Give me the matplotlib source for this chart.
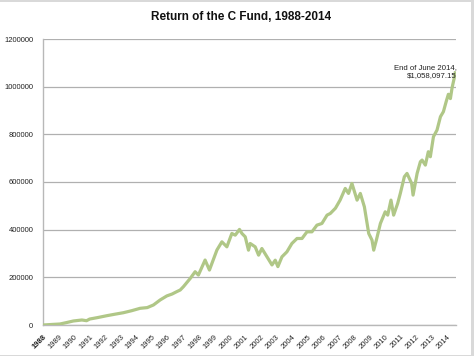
import matplotlib
matplotlib.use("Agg")
import matplotlib.pyplot as plt
from matplotlib.patches import Rectangle

# Data (decimal year, fund value in $)
years = [1988.0, 1988.5, 1989.09, 1989.5, 1989.95, 1990.5, 1990.8, 1991.0, 1991.5, 1992.1,
         1992.6, 1993.17, 1993.7, 1994.24, 1994.7, 1995.1, 1995.53, 1995.96, 1996.3, 1996.6,
         1996.82, 1997.03, 1997.46, 1997.78, 1997.99, 1998.42, 1998.7, 1999.18, 1999.5, 1999.82,
         2000.14, 2000.36, 2000.63, 2000.79, 2001.0, 2001.21, 2001.32, 2001.64, 2001.86, 2002.07,
         2002.4, 2002.72, 2002.93, 2003.1, 2003.36, 2003.68, 2004.0, 2004.33, 2004.65, 2004.97,
         2005.29, 2005.61, 2005.93, 2006.26, 2006.47, 2006.8, 2007.1, 2007.43, 2007.64, 2007.86,
         2008.19, 2008.4, 2008.66, 2008.94, 2009.15, 2009.26, 2009.43, 2009.69, 2010.0, 2010.16,
         2010.37, 2010.54, 2010.8, 2010.97, 2011.23, 2011.4, 2011.7, 2011.79, 2012.05, 2012.26,
         2012.37, 2012.58, 2012.77, 2012.9, 2013.1, 2013.33, 2013.55, 2013.74, 2013.93, 2014.06,
         2014.19, 2014.3, 2014.45, 2014.5]
values = [0, 2000, 4200, 10000, 16800, 21000, 18000, 25000, 31000, 39000,
          45000, 51600, 60000, 70000, 73000, 84000, 105000, 122000, 130000, 140000,
          146800, 161000, 195000, 223600, 209600, 272500, 230600, 314500, 349000, 328000,
          384000, 377000, 401000, 384000, 370000, 314000, 342000, 328000, 293000, 321000,
          286000, 252000, 272000, 245000, 286000, 307000, 342000, 363000, 363000, 391000,
          391000, 419000, 426000, 461000, 468000, 490000, 524000, 573000, 552000, 594000,
          524000, 552000, 496000, 384000, 356000, 314000, 356000, 426000, 475000, 461000,
          524000, 461000, 510000, 552000, 622000, 636000, 594000, 545000, 636000, 685000,
          692000, 671000, 727000, 706000, 790000, 818000, 874000, 895000, 940000, 968000,
          950000, 996000, 1040000, 1058097.15]

tick_years = list(range(1988, 2015))
y_ticks = [0, 200000, 400000, 600000, 800000, 1000000, 1200000]

title = "Return of the C Fund, 1988-2014"
note = "End of June 2014,\n$1,058,097.15"

W, H = 474, 356
fig = plt.figure(figsize=(W / 100, H / 100), dpi=100)
fig.patch.set_facecolor("white")

# light frame bands around the picture
fig.add_artist(Rectangle((0, 1 - 2 / H), 1, 2 / H, transform=fig.transFigure,
                         facecolor="#d9d9d9", edgecolor="none"))
fig.add_artist(Rectangle((1 - 3 / W, 0), 3 / W, 1, transform=fig.transFigure,
                         facecolor="#d9d9d9", edgecolor="none"))
fig.add_artist(Rectangle((0, 0), 1, 1.5 / H, transform=fig.transFigure,
                         facecolor="#d9d9d9", edgecolor="none"))

left, right, top, bottom = 43, 456, 39, 325
ax = fig.add_axes([left / W, (H - bottom) / H, (right - left) / W, (bottom - top) / H])
ax.set_facecolor("white")

ax.plot(years, values, color="#b0c787", lw=2.3, solid_joinstyle="round", zorder=3)

ax.set_xlim(1988, 2014.55)
ax.set_ylim(0, 1200000)
ax.set_yticks(y_ticks)
ax.set_yticklabels([str(v) for v in y_ticks])
ax.set_xticks(tick_years)
ax.set_xticklabels([str(y) for y in tick_years], rotation=45, ha="right",
                   va="top", rotation_mode="anchor")
ax.get_xticklabels()[0].set_fontweight("bold")

ax.grid(axis="y", color="#b0b0b0", lw=0.9, zorder=0)
ax.set_axisbelow(True)
for s in ["top", "right"]:
    ax.spines[s].set_visible(False)
for s in ["left", "bottom"]:
    ax.spines[s].set_color("#b8b8b8")
    ax.spines[s].set_linewidth(1.0)
ax.tick_params(axis="both", length=0, labelsize=5.5, colors="#222222",
               labelfontfamily="Liberation Sans")
ax.tick_params(axis="y", pad=7)
ax.tick_params(axis="x", pad=6)

fig.text(241 / W, 1 - 17 / H, title, ha="center", va="center",
         fontsize=8.5, fontweight="bold", family="Liberation Sans", color="#111111")
ax.text(2014.6, 1030000, note, ha="right", va="bottom", fontsize=5.6,
        family="Liberation Sans", color="#222222", linespacing=1.35)

fig.savefig("out.png", dpi=100)
